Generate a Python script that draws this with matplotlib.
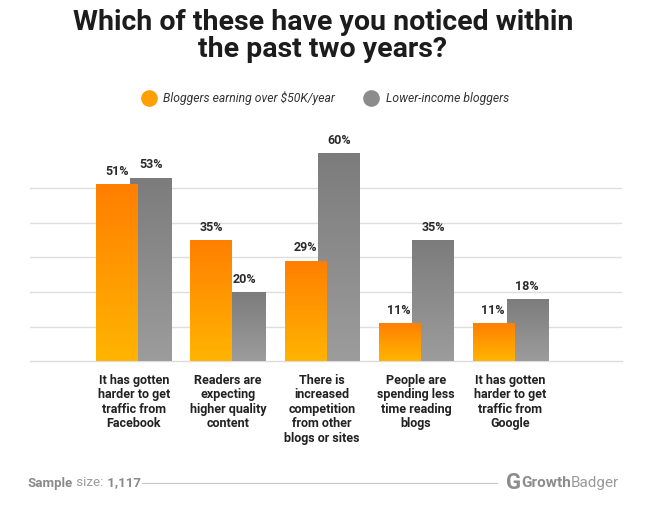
import numpy as np
import matplotlib.pyplot as plt
from matplotlib.lines import Line2D
from matplotlib.colors import LinearSegmentedColormap


# Survey data
categories = [
    "It has gotten\nharder to get\ntraffic from\nFacebook",
    "Readers are\nexpecting\nhigher quality\ncontent",
    "There is\nincreased\ncompetition\nfrom other\nblogs or sites",
    "People are\nspending less\ntime reading\nblogs",
    "It has gotten\nharder to get\ntraffic from\nGoogle",
]
high_income = [51, 35, 29, 11, 11]   # Bloggers earning over $50K/year
low_income = [53, 20, 60, 35, 18]    # Lower-income bloggers
series_names = ["Bloggers earning over $50K/year", "Lower-income bloggers"]


plt.rcParams['font.family'] = ['Roboto', 'DejaVu Sans']

fig = plt.figure(figsize=(6.46, 5.16), dpi=100)
fig.patch.set_facecolor('white')
ax = fig.add_axes([0.046, 0.300, 0.917, 0.403])

x = np.arange(len(categories))
width = 0.436
offset = 0.18

orange_cmap = LinearSegmentedColormap.from_list('org', ['#ffb400', '#ff7f00'])
gray_cmap = LinearSegmentedColormap.from_list('gry', ['#9c9c9c', '#7c7c7c'])
grad = np.linspace(0, 1, 100).reshape(-1, 1)

# gray bars first, orange bars drawn over them
bars_low = ax.bar(x + offset, low_income, width, color='#8a8a8a', zorder=2)
bars_high = ax.bar(x - offset, high_income, width, color='#ff9a00', zorder=3)

# vertical gradient inside each bar
for bars, cmap, z in [(bars_low, gray_cmap, 2), (bars_high, orange_cmap, 3)]:
    for b in bars:
        bx, by = b.get_x(), b.get_y()
        bw, bh = b.get_width(), b.get_height()
        im = ax.imshow(grad, cmap=cmap, origin='lower', aspect='auto',
                       extent=[bx, bx + bw, by, by + bh], zorder=z + 0.1)
        im.set_clip_path(b)

# value labels
for bars, vals in [(bars_high, high_income), (bars_low, low_income)]:
    for b, v in zip(bars, vals):
        ax.annotate(f"{v}%", (b.get_x() + b.get_width() / 2, v),
                    xytext=(0, 4.5), textcoords='offset points',
                    ha='center', va='bottom', fontsize=9, fontweight='bold',
                    color='#2b2b2b', clip_on=False, zorder=5)

ax.set_xlim(-1.106, 5.19)
ax.set_ylim(0, 60)
ax.set_yticks([10, 20, 30, 40, 50])
ax.yaxis.grid(True, color='#dedede', linewidth=1, zorder=0)
ax.axhline(0, color='#dcdcdc', linewidth=1, zorder=1, clip_on=False)
ax.set_axisbelow(True)
ax.tick_params(axis='y', left=False, labelleft=False)
ax.set_xticks(x)
ax.set_xticklabels(categories, fontsize=9, fontweight='bold', color='#222222',
                   linespacing=1.15, va='top')
ax.tick_params(axis='x', length=0, pad=9)
for s in ax.spines.values():
    s.set_visible(False)

# title
fig.text(0.5, 0.930, "Which of these have you noticed within\nthe past two years?",
         ha='center', va='center', fontsize=20.5, fontweight='bold',
         color='#1c1c1c', linespacing=1.0)

# legend
handles = [
    Line2D([], [], marker='o', linestyle='none', markersize=12,
           markerfacecolor='#ff9f00', markeredgecolor='none'),
    Line2D([], [], marker='o', linestyle='none', markersize=12,
           markerfacecolor='#8c8c8c', markeredgecolor='none'),
]
fig.legend(handles, series_names, loc='center', bbox_to_anchor=(0.5, 0.81),
           ncol=2, frameon=False, handletextpad=0.2, columnspacing=2.0,
           prop={'style': 'italic', 'size': 8.7}, labelcolor='#333333')

# footer
fy = 1 - 483 / 516
t1 = fig.text(28 / 646, fy, "Sample", ha='left', va='center', fontsize=9.5,
              fontweight='bold', color='#8a8a8a')
t2 = ax.annotate(" size:", xy=(1, 0.5), xycoords=t1, va='center',
                 fontsize=9.5, color='#9a9a9a')
ax.annotate(" 1,117", xy=(1, 0.5), xycoords=t2, va='center', fontsize=9.5,
            fontweight='bold', color='#8a8a8a')
fig.add_artist(Line2D([142 / 646, 497 / 646], [fy, fy], color='#c8c8c8',
                      linewidth=0.8))
g = fig.text(506 / 646, fy, "G", ha='left', va='center', fontsize=16,
             fontweight='bold', color='#8c8c8c')
g2 = ax.annotate("Growth", xy=(1, 0.5), xycoords=g, va='center',
                 fontsize=11, fontweight='bold', color='#8c8c8c')
ax.annotate("Badger", xy=(1, 0.5), xycoords=g2, va='center',
            fontsize=11, color='#9a9a9a')

fig.savefig('out.png', dpi=100, facecolor='white')
